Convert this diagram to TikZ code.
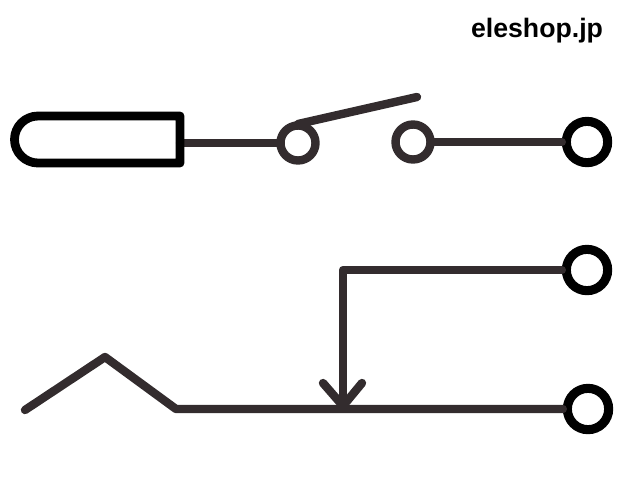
\documentclass[tikz,border=0pt]{standalone}
\usepackage{fontspec}
\setmainfont{Liberation Sans}
\usetikzlibrary{positioning}
\definecolor{wirecol}{HTML}{332C2E}
\begin{document}
\begin{tikzpicture}[%
    x=0.75pt,
    y=-0.75pt,
    wire/.style={%
      draw=wirecol,
      line width=6.3pt,
      line cap=round,
      line join=round
    },
    contact/.style={%
      circle,
      draw=wirecol,
      line width=6.3pt,
      minimum size=26.25pt,
      inner sep=0pt
    },
    terminal/.style={%
      circle,
      draw=black,
      line width=6.8pt,
      minimum size=31pt,
      inner sep=0pt
    }
  ]
    \useasboundingbox (0,0) rectangle (620,500);
    \node[font=\bfseries\fontsize{20pt}{24pt}\selectfont] (brand) at (537,30.5) {eleshop.jp};

    % upper row
    \coordinate (capr) at (180,143);
    \node[contact]  (c1) at (298,143) {};
    \node[contact]  (c2) at (413,142) {};
    \node[terminal] (t1) at (587,142) {};
    \coordinate (pivot) at (298,124);
    \coordinate (lever) at (417,97);
    \draw[wire] (capr) -- (c1);
    \draw[wire] (pivot) -- (lever);
    \draw[wire] (c2) -- (t1);
    \draw[line width=6.6pt,line join=round,line cap=round]
      (180,116) -- (38,116) arc[start angle=270,end angle=90,radius=23.5] -- (180,163) -- cycle;

    % lower row
    \node[terminal] (t2) at (587,270) {};
    \node[terminal] (t3) at (588,409) {};
    \coordinate (a) at (25,410);
    \coordinate (b) at (105,357);
    \coordinate (c) at (176,409);
    \coordinate (corner) at (343,270);
    \coordinate (tip) at (343,406);
    \draw[wire] (a) -- (b) -- (c) -- (t3);
    \draw[wire] (t2) -- (corner) -- (tip);
    \draw[wire] (323,383) -- (tip) -- (362,383);
  \end{tikzpicture}
\end{document}
